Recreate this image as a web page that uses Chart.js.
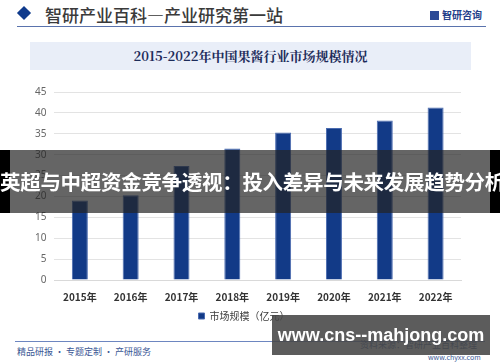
<!DOCTYPE html>
<html lang="zh">
<head>
<meta charset="UTF-8">
<title>2015-2022年中国果酱行业市场规模情况</title>
<script src="https://cdn.jsdelivr.net/npm/chart.js"></script>
<style>
  html, body { margin: 0; padding: 0; }
  body { width: 500px; height: 362px; position: relative; overflow: hidden; background: #fff;
         font-family: "Noto Sans CJK SC", "Noto Sans", sans-serif; }
  .abs { position: absolute; }
  #diamond { left: 19px; top: 8px; width: 10px; height: 10px; background: #0f3a8c; transform: rotate(45deg); }
  #head { left: 45px; top: 2px; font-size: 17px; color: #3a3a3a; font-family: "Noto Sans CJK SC"; font-weight: 500; }
  #logo { left: 430px; top: 7px; font-size: 10px; color: #24408a; font-weight: 700; }
  #logo i { display: inline-block; width: 9px; height: 9px; background: #2b4a96; margin-right: 3px; vertical-align: -1px; }
  #hline { left: 17px; top: 26px; width: 469px; height: 1px; background: #5a73ad; }
  #tbox { left: 30px; top: 42px; width: 441px; height: 28px; background: #e9eef8; }
  #title { left: 30px; top: 42px; width: 441px; line-height: 28px; text-align: center; font-size: 13px;
           font-weight: 700; color: #1d2c5a; font-family: "Noto Serif CJK SC", "Noto Sans CJK SC", serif; }
  #chartBox { left: 0; top: 78px; width: 500px; height: 253px; }
  #fline { left: 15px; top: 341px; width: 470px; height: 1px; background: #6d86c0; }
  #fleft { left: 17px; top: 345px; font-size: 9px; color: #3b5795; }
  #fright { left: 360px; top: 338px; font-size: 9px; color: #3b5795; }
  #fweb { left: 428px; top: 352px; font-size: 7px; color: #3b5795; }
  #band { left: 0; top: 150px; width: 500px; height: 63px; background: rgba(35,35,35,0.7); }
  #bandL { left: 0; top: 150px; width: 10px; height: 63px; background: #000; }
  #bandR { left: 490px; top: 150px; width: 10px; height: 63px; background: #000; }
  #bandText { left: 0; top: 150px; width: 500px; line-height: 63px; text-align: center; color: #fff;
              font-size: 20.5px; font-weight: 700; white-space: nowrap; letter-spacing: -0.3px; }
  #wm { left: 272px; top: 315px; width: 218px; height: 40px; background: rgba(70,70,70,0.88); color: #fff;
        font-size: 18px; font-weight: 700; line-height: 40px; text-align: center;
        font-family: "Liberation Sans", Arial, sans-serif; white-space: nowrap; }
</style>
</head>
<body>
<div class="abs" id="diamond"></div>
<div class="abs" id="head">智研产业百科—产业研究第一站</div>
<div class="abs" id="logo"><i></i>智研咨询</div>
<div class="abs" id="hline"></div>
<div class="abs" id="tbox"></div>
<div class="abs" id="title">2015-2022年中国果酱行业市场规模情况</div>
<div class="abs" id="chartBox"><canvas id="chart"></canvas></div>
<div class="abs" id="fline"></div>
<div class="abs" id="fleft">精品研报 · 专题定制 · 产研服务</div>
<div class="abs" id="fright">资料来源：智研产业百科整理</div>
<div class="abs" id="fweb">www.chyxx.com</div>
<div class="abs" id="band"></div>
<div class="abs" id="bandL"></div>
<div class="abs" id="bandR"></div>
<div class="abs" id="bandText">英超与中超资金竞争透视：投入差异与未来发展趋势分析</div>
<div class="abs" id="wm">www.cns--mahjong.com</div>

<script>
// data
const years = ['2015年', '2016年', '2017年', '2018年', '2019年', '2020年', '2021年', '2022年'];
const marketSize = [19.0, 20.3, 27.3, 31.5, 35.3, 36.4, 38.2, 41.3];
const seriesName = '市场规模（亿元）';

const ctx = document.getElementById('chart').getContext('2d');
new Chart(ctx, {
  type: 'bar',
  data: {
    labels: years,
    datasets: [{
      label: seriesName,
      data: marketSize,
      backgroundColor: '#123a87',
      borderColor: '#4a6bb0',
      borderWidth: 1,
      barPercentage: 0.63,
      categoryPercentage: 0.5
    }]
  },
  options: {
    responsive: true,
    maintainAspectRatio: false,
    animation: false,
    layout: { padding: { top: 5, right: 39, left: 27, bottom: 0 } },
    plugins: {
      legend: {
        position: 'bottom',
        labels: { boxWidth: 6, boxHeight: 6, color: '#404040', font: { size: 10, family: 'Noto Sans CJK SC' }, padding: 5 }
      },
      tooltip: { enabled: false }
    },
    scales: {
      y: {
        min: 0, max: 45,
        ticks: { stepSize: 5, color: '#666', font: { size: 10, family: 'Noto Sans' }, padding: 8 },
        grid: { color: '#e3e3e3', drawTicks: false },
        border: { display: false }
      },
      x: {
        ticks: { color: '#333', font: { size: 10, weight: 'bold', family: 'Noto Sans CJK SC' }, padding: 3 },
        grid: { display: false },
        border: { color: '#d9d9d9' }
      }
    }
  }
});
</script>
</body>
</html>
